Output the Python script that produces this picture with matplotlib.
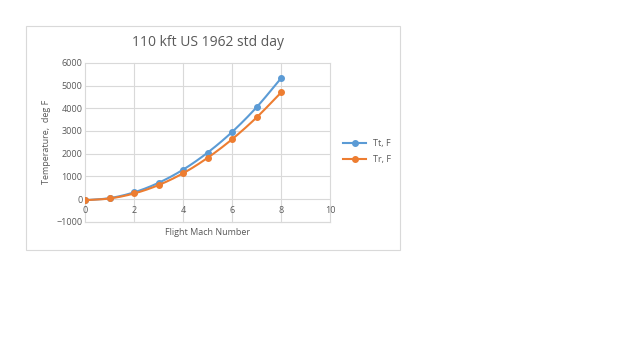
import numpy as np
import matplotlib.pyplot as plt
from matplotlib.patches import Rectangle

# flight mach number and temperatures (deg F)
mach = [0, 1, 2, 3, 4, 5, 6, 7, 8]
tt_f = [-45, 45, 300, 720, 1300, 2050, 2960, 4050, 5330]
tr_f = [-45, 30, 250, 620, 1140, 1820, 2640, 3600, 4700]


def smooth(x, y, n=20):
    # catmull-rom curve through the points, like excel's smoothed line
    x = np.asarray(x, float)
    y = np.asarray(y, float)
    px = np.r_[2 * x[0] - x[1], x, 2 * x[-1] - x[-2]]
    py = np.r_[2 * y[0] - y[1], y, 2 * y[-1] - y[-2]]
    t = np.linspace(0, 1, n)[:, None]
    xs, ys = [], []
    for i in range(1, len(px) - 2):
        for p, out in ((px, xs), (py, ys)):
            p0, p1, p2, p3 = p[i - 1], p[i], p[i + 1], p[i + 2]
            seg = 0.5 * (2 * p1 + (-p0 + p2) * t
                         + (2 * p0 - 5 * p1 + 4 * p2 - p3) * t ** 2
                         + (-p0 + 3 * p1 - 3 * p2 + p3) * t ** 3)
            out.append(seg.ravel())
    return np.concatenate(xs), np.concatenate(ys)


plt.rcParams['font.family'] = ['Open Sans', 'DejaVu Sans']
fig = plt.figure(figsize=(6.4, 3.59), dpi=100)

# excel chart border
fig.patches.append(Rectangle((0.041, 0.304), 0.584, 0.624, transform=fig.transFigure,
                             fill=False, edgecolor='#d9d9d9', linewidth=0.8))

ax = fig.add_axes([0.133, 0.382, 0.383, 0.443])
blue = '#5b9bd5'
orange = '#ed7d31'
for y, c, lab in ((tt_f, blue, 'Tt, F'), (tr_f, orange, 'Tr, F')):
    sx, sy = smooth(mach, y)
    ax.plot(sx, sy, color=c, linewidth=1.5)
    ax.plot(mach, y, 'o', color=c, markersize=4)
    ax.plot([], [], '-o', color=c, linewidth=1.5, markersize=4, label=lab)

ax.set_xlim(0, 10)
ax.set_ylim(-1000, 6000)
ax.set_xticks(range(0, 11, 2))
ax.set_yticks(range(-1000, 6001, 1000))
ax.grid(True, color='#d9d9d9', linewidth=0.8, clip_on=False)
ax.axhline(-1000, color='#d9d9d9', linewidth=0.8, clip_on=False, zorder=0)
ax.set_axisbelow(True)
for s in ax.spines.values():
    s.set_visible(False)
# x tick labels sit on the zero line, as excel does
ax.spines['bottom'].set_position(('data', 0))
ax.tick_params(length=0, labelsize=6.5, labelcolor='#595959', pad=2)
ax.tick_params(axis='x', pad=5)

ax.set_title('110 kft US 1962 std day', fontsize=10, color='#595959', pad=12)
ax.text(0.5, -0.065, 'Flight Mach Number', transform=ax.transAxes,
        ha='center', va='center', fontsize=6.5, color='#595959')
ax.set_ylabel('Temperature,  deg F', fontsize=6.5, color='#595959', labelpad=4)

ax.legend(loc='center left', bbox_to_anchor=(1.02, 0.44), frameon=False,
          fontsize=6.5, labelcolor='#595959', handlelength=2.5, labelspacing=0.8)

fig.savefig('out.png', dpi=100)
